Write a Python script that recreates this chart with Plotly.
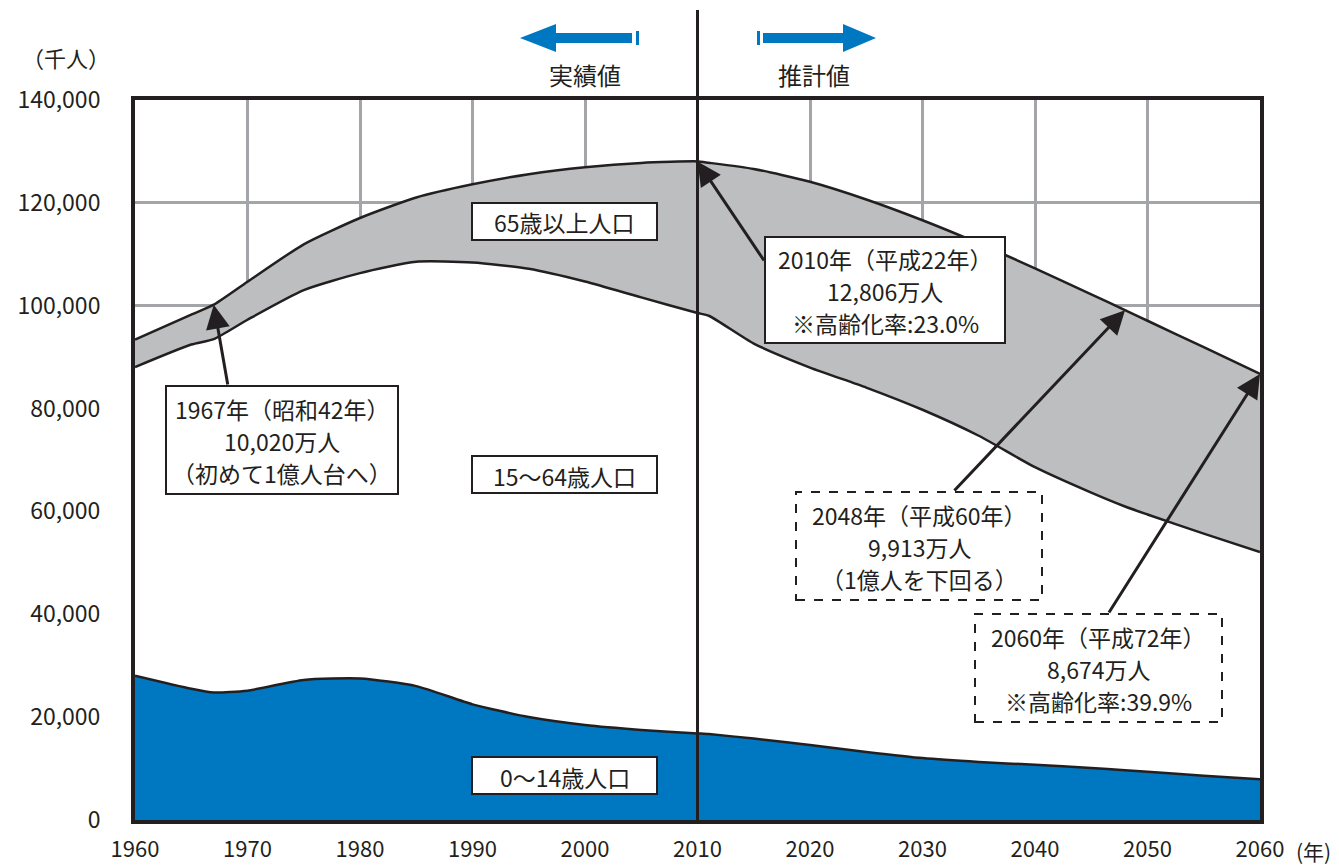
import plotly.graph_objects as go

# Japan population by age group (thousand persons)
years = [1960, 1965, 1967, 1970, 1975, 1980, 1985, 1990, 1995, 2000, 2005,
         2010, 2011, 2015, 2020, 2025, 2030, 2035, 2040, 2045, 2048, 2050, 2055, 2060]
age_0_14 = [28067, 25529, 24800, 25153, 27221, 27507, 26033, 22486, 20014, 18472, 17521,
            16839, 16705, 15827, 14568, 13240, 12039, 11287, 10732, 10116, 9650, 9387, 8614, 7912]
age_15_64 = [60002, 66928, 68700, 72119, 75807, 78835, 82506, 85904, 87165, 86220, 84092,
             81735, 81342, 76818, 73408, 70845, 67730, 63430, 57866, 53531, 51300, 50013, 47063, 44183]
age_65_over = [5350, 5818, 6696, 7393, 8912, 10718, 12510, 15221, 18391, 22234, 26155,
               29484, 29752, 33952, 36124, 36573, 36849, 37407, 38678, 38564, 38181, 37676, 36257, 34642]

x_ticks = [1960, 1970, 1980, 1990, 2000, 2010, 2020, 2030, 2040, 2050, 2060]
y_ticks = [0, 20000, 40000, 60000, 80000, 100000, 120000, 140000]

totals = [a + b + c for a, b, c in zip(age_0_14, age_15_64, age_65_over)]

FONT = "Noto Sans CJK JP"
INK = "#231F20"
BLUE = "#0078C1"
GREY = "#BCBEC0"
GRID = "#A3A5A8"

# plot-area geometry in pixels (used for decorations only)
L, R, T, B = 135, 1260, 100, 820
LINE_GAP = 32


def px(x):
    return (x - L) / (R - L)


def py(y):
    return (B - y) / (B - T)


def tail_year(x):
    return x_ticks[0] + (x - L) / (R - L) * (x_ticks[-1] - x_ticks[0])


def tail_value(y):
    return (B - y) / (B - T) * y_ticks[-1]


def label(x, y, text, size, xanchor="center"):
    return dict(xref="paper", yref="paper", x=px(x), y=py(y), text=text,
                xanchor=xanchor, yanchor="middle", showarrow=False, align="center",
                font=dict(size=size, color=INK, family=FONT))


fig = go.Figure()
line = dict(color=INK, width=2.5, shape="spline", smoothing=0.6)
fig.add_trace(go.Scatter(x=years, y=age_0_14, stackgroup="pop", mode="lines",
                         line=line, fillcolor=BLUE, hoverinfo="skip", name="0〜14歳"))
fig.add_trace(go.Scatter(x=years, y=age_15_64, stackgroup="pop", mode="lines",
                         line=line, fillcolor="white", hoverinfo="skip", name="15〜64歳"))
fig.add_trace(go.Scatter(x=years, y=age_65_over, stackgroup="pop", mode="lines",
                         line=line, fillcolor=GREY, hoverinfo="skip", name="65歳以上"))

shapes = []
annotations = []

# divider between actual and projected values
shapes.append(dict(type="line", xref="x", yref="paper", x0=2010, x1=2010,
                   y0=0, y1=py(10), line=dict(color=INK, width=3), layer="above"))

# direction arrows above the plot
yc = py(38)
shapes.append(dict(type="path", xref="paper", yref="paper", fillcolor=BLUE, line=dict(width=0),
                   path=f"M {px(520)} {yc} L {px(556)} {py(24)} L {px(556)} {py(33)} "
                        f"L {px(632)} {py(33)} L {px(632)} {py(43)} L {px(556)} {py(43)} "
                        f"L {px(556)} {py(52)} Z"))
shapes.append(dict(type="rect", xref="paper", yref="paper", fillcolor=BLUE, line=dict(width=0),
                   x0=px(636), x1=px(639), y0=py(31), y1=py(45)))
shapes.append(dict(type="path", xref="paper", yref="paper", fillcolor=BLUE, line=dict(width=0),
                   path=f"M {px(876)} {yc} L {px(843)} {py(24)} L {px(843)} {py(33)} "
                        f"L {px(763)} {py(33)} L {px(763)} {py(43)} L {px(843)} {py(43)} "
                        f"L {px(843)} {py(52)} Z"))
shapes.append(dict(type="rect", xref="paper", yref="paper", fillcolor=BLUE, line=dict(width=0),
                   x0=px(757), x1=px(760), y0=py(31), y1=py(45)))

annotations.append(label(585, 75, "実績値", 24))
annotations.append(label(814, 75, "推計値", 24))
annotations.append(label(112, 57, "（千人）", 22, xanchor="right"))
annotations.append(label(1333, 851, "(年)", 21, xanchor="right"))

# labelled boxes: (left, top, right, bottom, dashed, lines of text)
boxes = [
    (472, 203, 657, 240, False, ["65歳以上人口"]),
    (472, 456, 657, 493, False, ["15〜64歳人口"]),
    (472, 757, 657, 794, False, ["0〜14歳人口"]),
    (166, 386, 398, 494, False, ["1967年（昭和42年）", "10,020万人", "（初めて1億人台へ）"]),
    (765, 237, 1005, 343, False, ["2010年（平成22年）", "12,806万人", "※高齢化率:23.0%"]),
    (796, 492, 1042, 600, True, ["2048年（平成60年）", "9,913万人", "（1億人を下回る）"]),
    (975, 614, 1222, 722, True, ["2060年（平成72年）", "8,674万人", "※高齢化率:39.9%"]),
]
for x0, y0, x1, y1, dashed, lines in boxes:
    shapes.append(dict(type="rect", xref="paper", yref="paper",
                       x0=px(x0), x1=px(x1), y0=py(y1), y1=py(y0),
                       fillcolor="white", layer="above",
                       line=dict(color=INK, width=2, dash="dash" if dashed else "solid")))
    mid = (y0 + y1) / 2 + 1
    for i, text in enumerate(lines):
        offset = (i - (len(lines) - 1) / 2) * LINE_GAP
        annotations.append(label((x0 + x1) / 2, mid + offset, text, 23))

# callout arrows pointing at the total population: (year, tail_x, tail_y)
callouts = [(1967, 228, 386), (2010, 765, 262), (2048, 953, 492), (2060, 1108, 614)]
for yr, tx, ty in callouts:
    annotations.append(dict(x=yr, y=totals[years.index(yr)], xref="x", yref="y",
                            ax=tail_year(tx), ay=tail_value(ty), axref="x", ayref="y",
                            text="", showarrow=True, arrowhead=2, arrowsize=1.6,
                            arrowwidth=3, arrowcolor=INK))

fig.update_layout(
    width=1339, height=865,
    margin=dict(l=L, r=1339 - R, t=T, b=865 - B, autoexpand=False),
    paper_bgcolor="white", plot_bgcolor="white",
    showlegend=False,
    font=dict(family=FONT, color=INK, size=19),
    shapes=shapes, annotations=annotations,
)
fig.update_xaxes(range=[1960, 2060], tickvals=x_ticks, showgrid=True, gridcolor=GRID,
                 gridwidth=3, showline=True, linecolor=INK, linewidth=4, mirror=True,
                 ticks="", ticklabelstandoff=7, zeroline=False,
                 tickfont=dict(size=22, family=FONT, color=INK))
fig.update_yaxes(range=[0, 140000], tickvals=y_ticks, tickformat=",", showgrid=True,
                 gridcolor=GRID, gridwidth=3, showline=True, linecolor=INK, linewidth=4,
                 mirror=True, ticks="", ticklabelstandoff=26, zeroline=False,
                 tickfont=dict(size=23, family=FONT, color=INK))

fig.write_html("out.html")
